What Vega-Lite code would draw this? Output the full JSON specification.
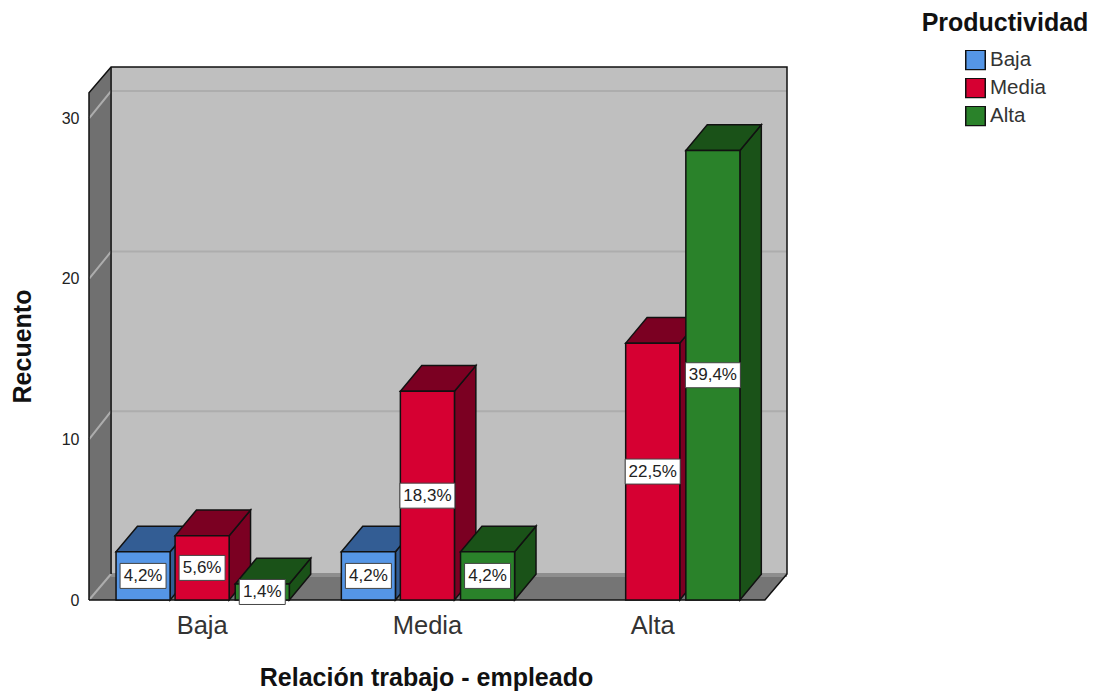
{
"$schema":"https://vega.github.io/schema/vega-lite/v6.json",
"width":698,"height":533,
"autosize":{"type":"none"},
"padding":{"left":89,"top":67,"right":322,"bottom":95},
"background":"white",
"config":{"view":{"stroke":null},"font":"Liberation Sans"},
"datasets":{
"paredes":[
{"cara":"pared","tono":"Fondo","x":-0.402,"y":1.62,"y2":33.2},
{"cara":"pared","tono":"Fondo","x":2.598,"y":1.62,"y2":33.2},
{"cara":"izq","tono":"Lateral","x":-0.5,"y":0,"y2":31.6},
{"cara":"izq","tono":"Lateral","x":-0.402,"y":1.62,"y2":33.2},
{"cara":"suelo","tono":"Suelo","x":-0.5,"y":0,"y2":0},
{"cara":"suelo","tono":"Suelo","x":-0.402,"y":0,"y2":1.62},
{"cara":"suelo","tono":"Suelo","x":2.5,"y":0,"y2":1.62},
{"cara":"suelo","tono":"Suelo","x":2.598,"y":1.62,"y2":1.62}
],
"rejilla":[
{"valor":0,"n":1,"x":-0.5,"y":0},{"valor":0,"n":2,"x":-0.402,"y":1.62},
{"valor":10,"n":1,"x":-0.5,"y":10},{"valor":10,"n":2,"x":-0.402,"y":11.75},{"valor":10,"n":3,"x":2.598,"y":11.75},
{"valor":20,"n":1,"x":-0.5,"y":20},{"valor":20,"n":2,"x":-0.402,"y":21.7},{"valor":20,"n":3,"x":2.598,"y":21.7},
{"valor":30,"n":1,"x":-0.5,"y":30},{"valor":30,"n":2,"x":-0.402,"y":31.7},{"valor":30,"n":3,"x":2.598,"y":31.7}
],
"bordeSuelo":[
{"x":-0.402,"y":1.55},{"x":2.598,"y":1.55}
],
"marco":[
{"tramo":"exterior","n":1,"x":-0.5,"y":0},
{"tramo":"exterior","n":2,"x":-0.5,"y":31.6},
{"tramo":"exterior","n":3,"x":-0.402,"y":33.2},
{"tramo":"exterior","n":4,"x":2.598,"y":33.2},
{"tramo":"exterior","n":5,"x":2.598,"y":1.62},
{"tramo":"exterior","n":6,"x":2.5,"y":0},
{"tramo":"exterior","n":7,"x":-0.5,"y":0},
{"tramo":"interior","n":1,"x":-0.402,"y":33.2},
{"tramo":"interior","n":2,"x":-0.402,"y":1.62}
],
"caras":[
{"cara":"1l","tono":"Baja sombra","x":-0.14,"y":0,"y2":3},{"cara":"1l","tono":"Baja sombra","x":-0.045,"y":1.6,"y2":4.6},
{"cara":"1s","tono":"Baja sombra","x":-0.38,"y":3,"y2":3},{"cara":"1s","tono":"Baja sombra","x":-0.285,"y":3,"y2":4.6},{"cara":"1s","tono":"Baja sombra","x":-0.14,"y":3,"y2":4.6},{"cara":"1s","tono":"Baja sombra","x":-0.045,"y":4.6,"y2":4.6},
{"cara":"1f","tono":"Baja","x":-0.38,"y":0,"y2":3},{"cara":"1f","tono":"Baja","x":-0.14,"y":0,"y2":3},
{"cara":"2l","tono":"Media sombra","x":0.122,"y":0,"y2":4},{"cara":"2l","tono":"Media sombra","x":0.217,"y":1.6,"y2":5.6},
{"cara":"2s","tono":"Media sombra","x":-0.118,"y":4,"y2":4},{"cara":"2s","tono":"Media sombra","x":-0.023,"y":4,"y2":5.6},{"cara":"2s","tono":"Media sombra","x":0.122,"y":4,"y2":5.6},{"cara":"2s","tono":"Media sombra","x":0.217,"y":5.6,"y2":5.6},
{"cara":"2f","tono":"Media","x":-0.118,"y":0,"y2":4},{"cara":"2f","tono":"Media","x":0.122,"y":0,"y2":4},
{"cara":"3l","tono":"Alta sombra","x":0.389,"y":0,"y2":1},{"cara":"3l","tono":"Alta sombra","x":0.484,"y":1.6,"y2":2.6},
{"cara":"3s","tono":"Alta sombra","x":0.149,"y":1,"y2":1},{"cara":"3s","tono":"Alta sombra","x":0.244,"y":1,"y2":2.6},{"cara":"3s","tono":"Alta sombra","x":0.389,"y":1,"y2":2.6},{"cara":"3s","tono":"Alta sombra","x":0.484,"y":2.6,"y2":2.6},
{"cara":"3f","tono":"Alta","x":0.149,"y":0,"y2":1},{"cara":"3f","tono":"Alta","x":0.389,"y":0,"y2":1},
{"cara":"4l","tono":"Baja sombra","x":0.86,"y":0,"y2":3},{"cara":"4l","tono":"Baja sombra","x":0.955,"y":1.6,"y2":4.6},
{"cara":"4s","tono":"Baja sombra","x":0.62,"y":3,"y2":3},{"cara":"4s","tono":"Baja sombra","x":0.715,"y":3,"y2":4.6},{"cara":"4s","tono":"Baja sombra","x":0.86,"y":3,"y2":4.6},{"cara":"4s","tono":"Baja sombra","x":0.955,"y":4.6,"y2":4.6},
{"cara":"4f","tono":"Baja","x":0.62,"y":0,"y2":3},{"cara":"4f","tono":"Baja","x":0.86,"y":0,"y2":3},
{"cara":"5l","tono":"Media sombra","x":1.122,"y":0,"y2":13},{"cara":"5l","tono":"Media sombra","x":1.217,"y":1.6,"y2":14.6},
{"cara":"5s","tono":"Media sombra","x":0.882,"y":13,"y2":13},{"cara":"5s","tono":"Media sombra","x":0.977,"y":13,"y2":14.6},{"cara":"5s","tono":"Media sombra","x":1.122,"y":13,"y2":14.6},{"cara":"5s","tono":"Media sombra","x":1.217,"y":14.6,"y2":14.6},
{"cara":"5f","tono":"Media","x":0.882,"y":0,"y2":13},{"cara":"5f","tono":"Media","x":1.122,"y":0,"y2":13},
{"cara":"6l","tono":"Alta sombra","x":1.389,"y":0,"y2":3},{"cara":"6l","tono":"Alta sombra","x":1.484,"y":1.6,"y2":4.6},
{"cara":"6s","tono":"Alta sombra","x":1.149,"y":3,"y2":3},{"cara":"6s","tono":"Alta sombra","x":1.244,"y":3,"y2":4.6},{"cara":"6s","tono":"Alta sombra","x":1.389,"y":3,"y2":4.6},{"cara":"6s","tono":"Alta sombra","x":1.484,"y":4.6,"y2":4.6},
{"cara":"6f","tono":"Alta","x":1.149,"y":0,"y2":3},{"cara":"6f","tono":"Alta","x":1.389,"y":0,"y2":3},
{"cara":"7l","tono":"Media sombra","x":2.122,"y":0,"y2":16},{"cara":"7l","tono":"Media sombra","x":2.217,"y":1.6,"y2":17.6},
{"cara":"7s","tono":"Media sombra","x":1.882,"y":16,"y2":16},{"cara":"7s","tono":"Media sombra","x":1.977,"y":16,"y2":17.6},{"cara":"7s","tono":"Media sombra","x":2.122,"y":16,"y2":17.6},{"cara":"7s","tono":"Media sombra","x":2.217,"y":17.6,"y2":17.6},
{"cara":"7f","tono":"Media","x":1.882,"y":0,"y2":16},{"cara":"7f","tono":"Media","x":2.122,"y":0,"y2":16},
{"cara":"8l","tono":"Alta sombra","x":2.389,"y":0,"y2":28},{"cara":"8l","tono":"Alta sombra","x":2.484,"y":1.6,"y2":29.6},
{"cara":"8s","tono":"Alta sombra","x":2.149,"y":28,"y2":28},{"cara":"8s","tono":"Alta sombra","x":2.244,"y":28,"y2":29.6},{"cara":"8s","tono":"Alta sombra","x":2.389,"y":28,"y2":29.6},{"cara":"8s","tono":"Alta sombra","x":2.484,"y":29.6,"y2":29.6},
{"cara":"8f","tono":"Alta","x":2.149,"y":0,"y2":28},{"cara":"8f","tono":"Alta","x":2.389,"y":0,"y2":28}
],
"etiquetas":[
{"relacion":"Baja","productividad":"Baja","recuento":3,"porcentaje":"4,2%","x":-0.26,"centro":1.5},
{"relacion":"Baja","productividad":"Media","recuento":4,"porcentaje":"5,6%","x":0.002,"centro":2},
{"relacion":"Baja","productividad":"Alta","recuento":1,"porcentaje":"1,4%","x":0.269,"centro":0.5},
{"relacion":"Media","productividad":"Baja","recuento":3,"porcentaje":"4,2%","x":0.74,"centro":1.5},
{"relacion":"Media","productividad":"Media","recuento":13,"porcentaje":"18,3%","x":1.002,"centro":6.5},
{"relacion":"Media","productividad":"Alta","recuento":3,"porcentaje":"4,2%","x":1.269,"centro":1.5},
{"relacion":"Alta","productividad":"Media","recuento":16,"porcentaje":"22,5%","x":2.002,"centro":8},
{"relacion":"Alta","productividad":"Alta","recuento":28,"porcentaje":"39,4%","x":2.269,"centro":14}
]
},
"layer":[
{"data":{"name":"paredes"},
 "mark":{"type":"area","interpolate":"linear"},
 "encoding":{
  "x":{"field":"x","type":"quantitative","scale":{"domain":[-0.5,2.598],"nice":false,"zero":false},
   "axis":{"title":"Relación trabajo - empleado","titleFontSize":25,"titleFontWeight":"bold","titleColor":"#111111","titlePadding":27,"titleX":337,"values":[0,1,2],"labelExpr":"datum.value==0?'Baja':datum.value==1?'Media':'Alta'","labelFontSize":25.5,"labelColor":"#333333","labelPadding":13,"ticks":false,"domain":false,"grid":false,"labelFlush":false}},
  "y":{"field":"y","type":"quantitative","stack":null,"scale":{"domain":[0,33.2],"nice":false},
   "axis":{"title":"Recuento","titleFontSize":25,"titleFontWeight":"bold","titleColor":"#111111","titlePadding":26,"titleY":279,"values":[0,10,20,30],"labelFontSize":16,"labelColor":"#222222","labelPadding":10,"ticks":false,"domain":false,"grid":false,"labelFlush":false}},
  "y2":{"field":"y2"},
  "detail":{"field":"cara"},
  "color":{"field":"tono","type":"nominal","scale":{"domain":["Baja","Media","Alta","Baja sombra","Media sombra","Alta sombra","Fondo","Lateral","Suelo"],"range":["#5596e6","#d60032","#2a822a","#335d94","#7b0022","#1a5218","#bfbfbf","#707070","#757575"]},
   "legend":{"title":"Productividad","values":["Baja","Media","Alta"],"orient":"none","legendX":833,"legendY":-56,"titleFontSize":25,"titleFontWeight":"bold","titleColor":"#111111","titleAnchor":"middle","titleAlign":"center","titlePadding":14,"labelFontSize":20.5,"labelColor":"#333333","labelOffset":4,"symbolType":"square","symbolSize":380,"symbolStrokeColor":"#222222","symbolStrokeWidth":1.5,"rowPadding":7,"clipHeight":20}}
 }},
{"data":{"name":"bordeSuelo"},
 "mark":{"type":"line","color":"#8e8e8e","strokeWidth":4,"interpolate":"linear"},
 "encoding":{"x":{"field":"x","type":"quantitative"},"y":{"field":"y","type":"quantitative"}}},
{"data":{"name":"rejilla"},
 "mark":{"type":"line","color":"#adadad","strokeWidth":2,"interpolate":"linear"},
 "encoding":{"x":{"field":"x","type":"quantitative"},"y":{"field":"y","type":"quantitative"},"detail":{"field":"valor"},"order":{"field":"n"}}},
{"data":{"name":"marco"},
 "mark":{"type":"line","color":"#111111","strokeWidth":1.5,"interpolate":"linear"},
 "encoding":{"x":{"field":"x","type":"quantitative"},"y":{"field":"y","type":"quantitative"},"detail":{"field":"tramo"},"order":{"field":"n"}}},
{"data":{"name":"caras"},
 "mark":{"type":"area","stroke":"#111111","strokeWidth":1.5,"interpolate":"linear"},
 "encoding":{
  "x":{"field":"x","type":"quantitative"},
  "y":{"field":"y","type":"quantitative","stack":null},
  "y2":{"field":"y2"},
  "detail":{"field":"cara"},
  "color":{"field":"tono","type":"nominal"}
 }},
{"data":{"name":"etiquetas"},
 "transform":[{"filter":"length(datum.porcentaje)==4"}],
 "mark":{"type":"rect","width":46,"height":25,"fill":"white","stroke":"#444444","strokeWidth":1},
 "encoding":{"x":{"field":"x","type":"quantitative"},"y":{"field":"centro","type":"quantitative"}}},
{"data":{"name":"etiquetas"},
 "transform":[{"filter":"length(datum.porcentaje)==5"}],
 "mark":{"type":"rect","width":55,"height":25,"fill":"white","stroke":"#444444","strokeWidth":1},
 "encoding":{"x":{"field":"x","type":"quantitative"},"y":{"field":"centro","type":"quantitative"}}},
{"data":{"name":"etiquetas"},
 "mark":{"type":"text","fontSize":17,"color":"#222222","align":"center","baseline":"middle"},
 "encoding":{"x":{"field":"x","type":"quantitative"},"y":{"field":"centro","type":"quantitative"},"text":{"field":"porcentaje"}}}
]
}
